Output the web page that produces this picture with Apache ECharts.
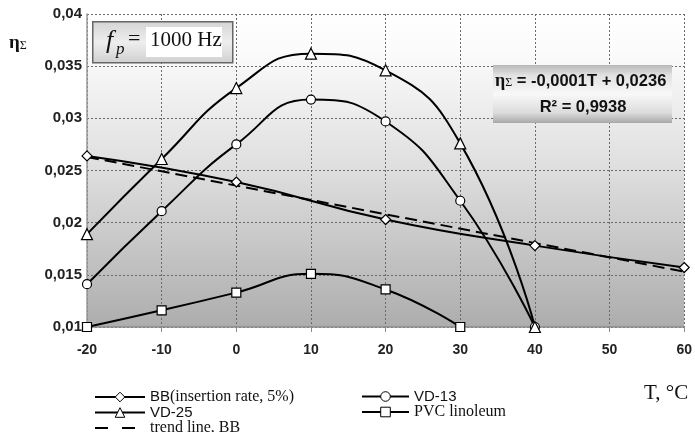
<!DOCTYPE html>
<html>
<head>
<meta charset="utf-8">
<script src="https://cdn.jsdelivr.net/npm/echarts@6/dist/echarts.min.js"></script>
<style>
  html, body { margin: 0; padding: 0; background: #ffffff; }
  #chart { width: 695px; height: 432px; }
</style>
</head>
<body>
<div id="chart"></div>
<script>
// Loss factor ηΣ versus temperature T at fp = 1000 Hz

// Temperature points (°C) for each material
const bbTemps = [-20, 0, 20, 40, 60];
const vdTemps = [-20, -10, 0, 10, 20, 30, 40];
const pvcTemps = [-20, -10, 0, 10, 20, 30];
const trendTemps = [-20, 60];

// Measured loss factors
const bbValues = [0.0264, 0.0239, 0.0203, 0.0178, 0.0157];
const vd13Values = [0.0141, 0.0211, 0.0275, 0.0318, 0.0297, 0.0221, 0.0100];
const vd25Values = [0.0189, 0.0261, 0.0329, 0.0362, 0.0346, 0.0276, 0.0100];
const pvcValues = [0.0100, 0.0116, 0.0133, 0.0151, 0.0136, 0.0100];
// Linear trend of BB, end points
const trendValues = [0.0263, 0.0153];

// Axis ranges and ticks
const xMin = -20, xMax = 60, xStep = 10;
const yMin = 0.01, yMax = 0.04, yStep = 0.005;

// Legend and annotation texts
const names = {
  bb: 'BB (insertion rate, 5%)',
  vd13: 'VD-13',
  vd25: 'VD-25',
  pvc: 'PVC linoleum',
  trend: 'trend line, BB'
};
const equationLine1 = ' = -0,0001T + 0,0236';
const equationLine2 = 'R² = 0,9938';
const freqValue = '1000 Hz';
const xTitle = 'T, °C';

const pairs = (xs, ys) => xs.map((x, i) => [x, ys[i]]);

const SANS = '"Liberation Sans", Arial, sans-serif';
const SERIF = '"Liberation Serif", "Times New Roman", serif';

const markerStyle = { color: '#ffffff', borderColor: '#000000', borderWidth: 1.2 };
const curveStyle = { color: '#000000', width: 2 };

function curve(name, xs, ys, symbol, size) {
  return {
    name: name,
    type: 'line',
    data: pairs(xs, ys),
    smooth: 0.5,
    symbol: symbol,
    symbolSize: size,
    showAllSymbol: true,
    lineStyle: curveStyle,
    itemStyle: markerStyle,
    emphasis: { disabled: true },
    z: 3
  };
}

const legendRich = {
  s: { fontFamily: SANS, fontSize: 15, color: '#111', lineHeight: 14 },
  r: { fontFamily: SERIF, fontSize: 16, color: '#111', lineHeight: 14 }
};
function legendLabel(name) {
  if (name === names.bb) return '{s|BB}{r|(insertion rate, 5%)}';
  if (name === names.vd13 || name === names.vd25) return '{s|' + name + '}';
  return '{r|' + name + '}';
}
const legendBase = {
  orient: 'vertical',
  itemHeight: 12,
  itemGap: 0,
  padding: 0,
  height: 60,
  selectedMode: false,
  formatter: legendLabel,
  itemStyle: { borderWidth: 1 },
  textStyle: { rich: legendRich, lineHeight: 14 }
};

const chart = echarts.init(document.getElementById('chart'), null, { renderer: 'canvas' });

chart.setOption({
  animation: false,
  backgroundColor: '#ffffff',
  grid: {
    left: 87, right: 10, top: 14, bottom: 105,
    show: true,
    borderWidth: 0,
    backgroundColor: {
      type: 'linear', x: 0, y: 0, x2: 0, y2: 1,
      colorStops: [
        { offset: 0, color: '#ffffff' },
        { offset: 0.12, color: '#fbfbfb' },
        { offset: 0.5, color: '#dedede' },
        { offset: 1, color: '#adadad' }
      ]
    }
  },
  xAxis: {
    type: 'value',
    min: xMin, max: xMax, interval: xStep,
    axisLine: { show: true, onZero: false, lineStyle: { color: '#8c8c8c', width: 1.5 } },
    axisTick: { show: true, length: 5, lineStyle: { color: '#8c8c8c' } },
    axisLabel: { fontFamily: SANS, fontWeight: 'bold', fontSize: 14, color: '#222', margin: 16 },
    splitLine: { show: true, lineStyle: { color: '#6a6a6a', type: [2, 2], width: 1 } }
  },
  yAxis: {
    type: 'value',
    min: yMin, max: yMax, interval: yStep,
    axisLine: { show: true, onZero: false, lineStyle: { color: '#9a9a9a', width: 1.5 } },
    axisTick: { show: false },
    axisLabel: {
      fontFamily: SANS, fontWeight: 'bold', fontSize: 15, color: '#222', margin: 5,
      formatter: v => String(+v.toFixed(3)).replace('.', ',')
    },
    splitLine: { show: true, lineStyle: { color: '#6a6a6a', type: [2, 2], width: 1 } }
  },
  legend: [
    Object.assign({}, legendBase, {
      left: 94, top: 389, itemWidth: 50,
      data: [
        names.bb,
        names.vd25,
        { name: names.trend, itemStyle: { opacity: 0 }, lineStyle: { type: [13, 14] } }
      ]
    }),
    Object.assign({}, legendBase, {
      left: 361, top: 389, itemWidth: 47,
      data: [names.vd13, names.pvc]
    })
  ],
  series: [
    {
      name: names.trend,
      type: 'line',
      data: pairs(trendTemps, trendValues),
      symbol: 'none',
      lineStyle: { color: '#000000', width: 2, type: [12, 6] },
      itemStyle: { color: '#000000' },
      emphasis: { disabled: true },
      z: 2
    },
    curve(names.bb, bbTemps, bbValues, 'diamond', 10),
    curve(names.vd13, vdTemps, vd13Values, 'circle', 9),
    curve(names.vd25, vdTemps, vd25Values, 'triangle', 11),
    curve(names.pvc, pvcTemps, pvcValues, 'rect', 9)
  ],
  graphic: [
    // frequency box
    {
      type: 'rect', left: 92, top: 21, z: 10,
      shape: { width: 140, height: 41 },
      style: {
        fill: {
          type: 'linear', x: 0, y: 0, x2: 0, y2: 1,
          colorStops: [
            { offset: 0, color: '#d4d4d4' },
            { offset: 0.5, color: '#eeeeee' },
            { offset: 1, color: '#cfcfcf' }
          ]
        },
        stroke: '#666666', lineWidth: 1.5
      }
    },
    {
      type: 'rect', left: 146, top: 27, z: 11,
      shape: { width: 76, height: 30 },
      style: { fill: '#ffffff' }
    },
    {
      type: 'text', left: 106, top: 28, z: 12,
      style: { text: 'f', font: 'italic 26px ' + SERIF, fill: '#111' }
    },
    {
      type: 'text', left: 116, top: 41, z: 12,
      style: { text: 'p', font: 'italic 17px ' + SERIF, fill: '#111' }
    },
    {
      type: 'text', left: 128, top: 28, z: 12,
      style: { text: '=', font: '22px ' + SERIF, fill: '#111' }
    },
    {
      type: 'text', left: 150, top: 30, z: 12,
      style: { text: freqValue, font: '21px ' + SERIF, fill: '#111' }
    },
    // regression equation box
    {
      type: 'rect', left: 493, top: 65, z: 10,
      shape: { width: 179, height: 58 },
      style: {
        fill: {
          type: 'linear', x: 0, y: 0, x2: 0, y2: 1,
          colorStops: [
            { offset: 0, color: '#b8b8b8' },
            { offset: 0.18, color: '#e2e2e2' },
            { offset: 0.5, color: '#f8f8f8' },
            { offset: 0.82, color: '#dcdcdc' },
            { offset: 1, color: '#a8a8a8' }
          ]
        }
      }
    },
    {
      type: 'text', left: 495, top: 72, z: 12,
      style: {
        text: '{e|η}{g|Σ}{t|' + equationLine1 + '}',
        rich: {
          e: { font: 'bold 18px ' + SERIF, fill: '#111' },
          g: { font: '12px ' + SERIF, fill: '#111', padding: [4, 0, 0, 0] },
          t: { font: 'bold 16.5px ' + SANS, fill: '#111' }
        }
      }
    },
    {
      type: 'text', x: 583, y: 107, z: 12,
      style: {
        text: equationLine2, font: 'bold 16.5px ' + SANS, fill: '#111',
        align: 'center', verticalAlign: 'middle'
      }
    },
    // axis titles
    {
      type: 'text', left: 9, top: 34, z: 12,
      style: {
        text: '{e|η}{g|Σ}',
        rich: {
          e: { font: 'bold 19px ' + SERIF, fill: '#111' },
          g: { font: '12px ' + SERIF, fill: '#111', padding: [4, 0, 0, 0] }
        }
      }
    },
    {
      type: 'text', left: 644, top: 383, z: 12,
      style: { text: xTitle, font: '21px ' + SERIF, fill: '#111' }
    }
  ]
});
</script>
</body>
</html>
